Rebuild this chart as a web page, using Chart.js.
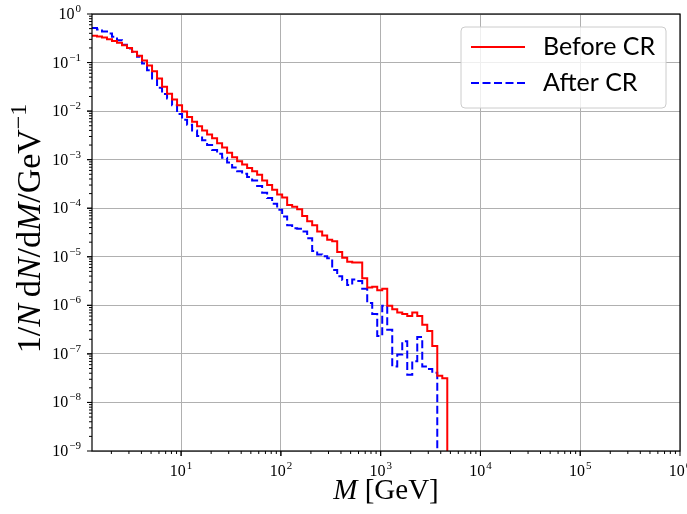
<!DOCTYPE html>
<html>
<head>
<meta charset="utf-8">
<title>Invariant mass spectrum</title>
<script src="https://cdn.jsdelivr.net/npm/chart.js@4.4.1/dist/chart.umd.min.js"></script>
<style>
  html, body { margin: 0; padding: 0; background: #fff; }
  canvas { display: block; }
</style>
</head>
<body>
<canvas id="massChart" width="687" height="514"></canvas>
<script>
// histogram binning: log10 of the first edge and bin width in decades
const logEdgeStart = 0.107;
const logBinWidth = 0.05015;

// 1/N dN/dM per bin, before and after colour reconnection
const beforeCR = [
  0.355, 0.343, 0.327, 0.302, 0.279, 0.257, 0.226, 0.200, 0.166, 0.138,
  0.110, 0.0871, 0.0661, 0.0468, 0.0316, 0.0229, 0.0174, 0.0132, 0.00977, 0.00759,
  0.00603, 0.00490, 0.00398, 0.00331, 0.00275, 0.00219, 0.00178, 0.00138, 0.00112, 9.33e-4,
  7.94e-4, 6.76e-4, 5.75e-4, 4.90e-4, 3.72e-4, 3.02e-4, 2.40e-4, 1.91e-4, 1.66e-4, 1.17e-4,
  1.07e-4, 9.55e-5, 6.92e-5, 5.37e-5, 4.47e-5, 3.31e-5, 2.75e-5, 2.24e-5, 2.09e-5, 1.26e-5,
  9.55e-6, 7.94e-6, 7.59e-6, 7.59e-6, 3.63e-6, 2.34e-6, 2.40e-6, 2.04e-6, 2.19e-6, 9.77e-7,
  8.32e-7, 7.08e-7, 6.61e-7, 6.03e-7, 7.08e-7, 6.03e-7, 3.98e-7, 2.95e-7, 1.45e-7, 3.55e-8,
  3.16e-8
];
const afterCR = [
  0.513, 0.479, 0.437, 0.398, 0.339, 0.288, 0.234, 0.195, 0.166, 0.132,
  0.0955, 0.0692, 0.0468, 0.0302, 0.0224, 0.0182, 0.0132, 0.00871, 0.00661, 0.00525,
  0.00398, 0.00309, 0.00251, 0.00200, 0.00158, 0.00132, 0.00110, 8.71e-4, 6.92e-4, 5.75e-4,
  5.13e-4, 4.37e-4, 3.72e-4, 2.88e-4, 2.09e-4, 1.62e-4, 1.23e-4, 9.33e-5, 6.76e-5, 4.47e-5,
  3.89e-5, 3.80e-5, 3.31e-5, 2.40e-5, 1.32e-5, 1.12e-5, 1.02e-5, 9.33e-6, 5.37e-6, 3.98e-6,
  3.31e-6, 2.63e-6, 3.39e-6, 3.16e-6, 2.19e-6, 1.12e-6, 6.61e-7, 2.34e-7, 9.77e-7, 3.16e-7,
  5.50e-8, 9.77e-8, 1.82e-7, 3.72e-8, 7.08e-8, 2.24e-7, 5.50e-8, 4.90e-8, 4.07e-8
];

// decade exponents used for the tick labels
const xDecades = [1, 2, 3, 4, 5, 6];
const yDecades = [0, -1, -2, -3, -4, -5, -6, -7, -8, -9];

const yMin = 1e-9;
const yMax = 1;
const xMax = 1e6;

const edges = [];
for (let k = 0; k <= Math.max(beforeCR.length, afterCR.length); k++) {
  edges.push(Math.pow(10, logEdgeStart + k * logBinWidth));
}

// step outline of a histogram: left edge of each bin, closing edge, drop to the floor
function stepPoints(values) {
  const pts = values.map((v, i) => ({ x: edges[i], y: v }));
  const n = values.length;
  pts.push({ x: edges[n], y: values[n - 1] });
  pts.push({ x: edges[n], y: yMin });
  return pts;
}

const serif = "'Liberation Serif', 'DejaVu Serif', serif";
const baseFont = '16px ' + serif;
const supFont = '11px ' + serif;

function drawPow(ctx, exp, x, y, align) {
  const base = '10';
  const sup = exp < 0 ? '\u2212' + (-exp) : String(exp);
  ctx.font = baseFont;
  const wb = ctx.measureText(base).width;
  ctx.font = supFont;
  const ws = ctx.measureText(sup).width;
  const total = wb + 1 + ws;
  const x0 = align === 'right' ? x - total : x - total / 2;
  ctx.textAlign = 'left';
  ctx.textBaseline = 'alphabetic';
  ctx.font = baseFont;
  ctx.fillText(base, x0, y);
  ctx.font = supFont;
  ctx.fillText(sup, x0 + wb + 1, y - 7);
}

// draws a run of text pieces: upright, italic or superscript
function drawPieces(ctx, pieces, size, x, y) {
  let cx = x;
  pieces.forEach(p => {
    const fs = p.sup ? size * 0.7 : size;
    ctx.font = (p.it ? 'italic ' : '') + fs + 'px ' + serif;
    ctx.fillText(p.t, cx, p.sup ? y - size * 0.42 : y);
    cx += ctx.measureText(p.t).width;
  });
  return cx - x;
}

function piecesWidth(ctx, pieces, size) {
  let w = 0;
  pieces.forEach(p => {
    const fs = p.sup ? size * 0.7 : size;
    ctx.font = (p.it ? 'italic ' : '') + fs + 'px ' + serif;
    w += ctx.measureText(p.t).width;
  });
  return w;
}

const yTitle = [
  { t: '1/' }, { t: 'N', it: true }, { t: '\u2009d' }, { t: 'N', it: true },
  { t: '/d' }, { t: 'M', it: true }, { t: '/GeV' }, { t: '\u22121', sup: true }
];
const xTitle = [{ t: 'M', it: true }, { t: ' [GeV]' }];

const decorations = {
  id: 'decorations',
  afterDraw(chart) {
    const { ctx, chartArea: a, scales: { x, y } } = chart;
    ctx.save();

    // axes frame
    ctx.strokeStyle = '#000';
    ctx.lineWidth = 1.2;
    ctx.strokeRect(a.left, a.top, a.right - a.left, a.bottom - a.top);

    // major and minor tick marks
    ctx.lineWidth = 1;
    ctx.beginPath();
    for (let e = Math.floor(Math.log10(x.min)); e < 6; e++) {
      for (let m = 1; m <= 10; m++) {
        const v = m * Math.pow(10, e);
        if (v < x.min || v > x.max) continue;
        const px = x.getPixelForValue(v);
        const len = (m === 1 || m === 10) ? 5 : 3;
        ctx.moveTo(px, a.bottom);
        ctx.lineTo(px, a.bottom + len);
      }
    }
    for (let e = -9; e < 0; e++) {
      for (let m = 1; m <= 10; m++) {
        const v = m * Math.pow(10, e);
        const py = y.getPixelForValue(v);
        const len = (m === 1 || m === 10) ? 5 : 3;
        ctx.moveTo(a.left, py);
        ctx.lineTo(a.left - len, py);
      }
    }
    ctx.stroke();

    // tick labels
    ctx.fillStyle = '#000';
    xDecades.forEach(e => drawPow(ctx, e, x.getPixelForValue(Math.pow(10, e)), a.bottom + 25, 'center'));
    yDecades.forEach(e => drawPow(ctx, e, a.left - 11, y.getPixelForValue(Math.pow(10, e)) + 5, 'right'));

    // axis titles
    ctx.textAlign = 'left';
    ctx.textBaseline = 'alphabetic';
    const xw = piecesWidth(ctx, xTitle, 29);
    drawPieces(ctx, xTitle, 29, (a.left + a.right) / 2 - xw / 2, 499);

    ctx.save();
    ctx.translate(40, (a.top + a.bottom) / 2 - 4);
    ctx.rotate(-Math.PI / 2);
    const yw = piecesWidth(ctx, yTitle, 34);
    drawPieces(ctx, yTitle, 34, -yw / 2, 0);
    ctx.restore();

    // legend box
    const bx = a.right - 219, by = a.top + 13, bw = 205, bh = 81;
    ctx.beginPath();
    ctx.roundRect(bx, by, bw, bh, 4);
    ctx.fillStyle = 'rgba(255,255,255,0.8)';
    ctx.fill();
    ctx.strokeStyle = '#cccccc';
    ctx.lineWidth = 1;
    ctx.stroke();

    chart.data.datasets.forEach((ds, i) => {
      const ly = by + 20 + i * 36;
      ctx.beginPath();
      ctx.setLineDash(ds.borderDash || []);
      ctx.strokeStyle = ds.borderColor;
      ctx.lineWidth = ds.borderWidth;
      ctx.moveTo(bx + 10, ly);
      ctx.lineTo(bx + 64, ly);
      ctx.stroke();
      ctx.setLineDash([]);
      ctx.fillStyle = '#000';
      ctx.font = "25px Lato, 'DejaVu Sans', sans-serif";
      ctx.fillText(ds.label, bx + 82, ly + 8);
    });

    ctx.restore();
  }
};

const gridStyle = { color: '#b0b0b0', lineWidth: 1, drawTicks: false };

new Chart(document.getElementById('massChart').getContext('2d'), {
  type: 'line',
  data: {
    datasets: [
      {
        label: 'Before CR',
        data: stepPoints(beforeCR),
        borderColor: '#ff0000',
        borderWidth: 2,
        stepped: 'before',
        pointRadius: 0,
        fill: false
      },
      {
        label: 'After CR',
        data: stepPoints(afterCR),
        borderColor: '#0000ff',
        borderWidth: 2,
        borderDash: [8, 3.5],
        stepped: 'before',
        pointRadius: 0,
        fill: false
      }
    ]
  },
  options: {
    responsive: false,
    animation: false,
    devicePixelRatio: 1,
    events: [],
    layout: { padding: { top: 14, right: 7, left: 0, bottom: 0 } },
    scales: {
      x: {
        type: 'logarithmic',
        min: edges[0],
        max: xMax,
        ticks: { display: false },
        grid: gridStyle,
        border: { display: false },
        afterBuildTicks: s => { s.ticks = xDecades.map(e => ({ value: Math.pow(10, e) })); },
        afterFit: s => { s.height = 63; }
      },
      y: {
        type: 'logarithmic',
        min: yMin,
        max: yMax,
        ticks: { display: false },
        grid: gridStyle,
        border: { display: false },
        afterBuildTicks: s => { s.ticks = yDecades.map(e => ({ value: Math.pow(10, e) })); },
        afterFit: s => { s.width = 92; }
      }
    },
    plugins: {
      legend: { display: false },
      tooltip: { enabled: false }
    }
  },
  plugins: [decorations]
});
</script>
</body>
</html>
